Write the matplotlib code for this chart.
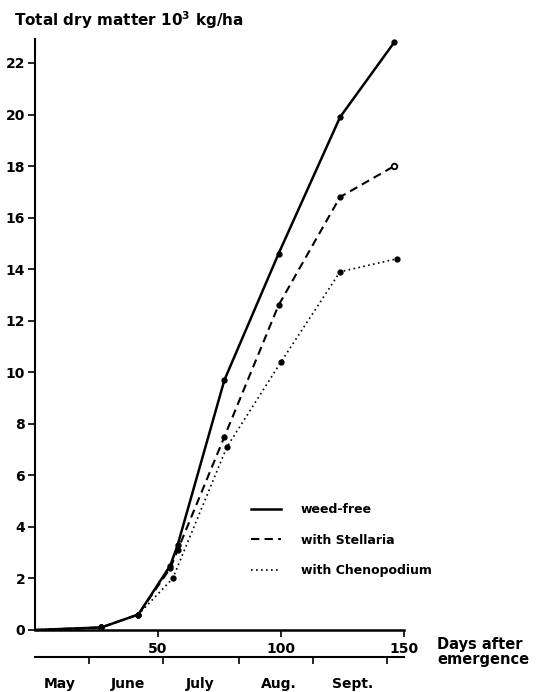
import matplotlib
matplotlib.use('Agg')
import matplotlib.pyplot as plt

# days after emergence and dry matter (10^3 kg/ha)
days_free = [0, 27, 42, 55, 58, 77, 99, 124, 146]
dm_free = [0, 0.1, 0.6, 2.5, 3.3, 9.7, 14.6, 19.9, 22.8]

days_stel = [0, 27, 42, 55, 58, 77, 99, 124, 146]
dm_stel = [0, 0.1, 0.6, 2.4, 3.1, 7.5, 12.6, 16.8, 18.0]

days_cheno = [0, 27, 42, 56, 78, 100, 124, 147]
dm_cheno = [0, 0.1, 0.6, 2.0, 7.1, 10.4, 13.9, 14.4]

y_ticks = [0, 2, 4, 6, 8, 10, 12, 14, 16, 18, 20, 22]
x_ticks = [50, 100, 150]
month_bounds = [22, 52, 83, 113, 143]
months = ['May', 'June', 'July', 'Aug.', 'Sept.']
month_pos = [10, 38, 67, 99, 129]

plt.rcParams['font.family'] = 'DejaVu Sans'
plt.rcParams['font.size'] = 10
plt.rcParams['font.weight'] = 'bold'

fig = plt.figure(figsize=(5.46, 6.92), dpi=100)
ax = fig.add_axes([0.064, 0.0896, 0.676, 0.854])

ax.plot(days_free, dm_free, '-', color='black', lw=1.8, marker='o', ms=3.5,
        markevery=slice(1, None), label='weed-free')
ax.plot(days_stel, dm_stel, color='black', lw=1.5, ls=(0, (4, 2.5)),
        marker='o', ms=3.5, markevery=slice(1, -1), label='with Stellaria')
# last Stellaria sample drawn as an open circle
ax.plot(days_stel[-1:], dm_stel[-1:], 'o', ms=4, mfc='white', mec='black', mew=1.3)
ax.plot(days_cheno, dm_cheno, color='black', lw=1.2, ls=(0, (1, 2)),
        marker='o', ms=3.5, markevery=slice(1, None), label='with Chenopodium')

ax.set_xlim(0, 150)
ax.set_ylim(0, 22.93)
ax.set_yticks(y_ticks)
ax.set_xticks(x_ticks)
ax.spines['top'].set_visible(False)
ax.spines['right'].set_visible(False)
ax.spines['left'].set_linewidth(1.5)
ax.spines['bottom'].set_linewidth(1.8)
ax.tick_params(axis='y', direction='out', length=5, width=1.2, pad=2)
ax.tick_params(axis='x', direction='out', length=5, width=1.2, pad=4)

# month axis below
sec = ax.secondary_xaxis(-0.046)
sec.set_xticks(month_bounds)
sec.set_xticklabels([])
sec.set_xticks(month_pos, minor=True)
sec.set_xticklabels(months, minor=True)
sec.tick_params(axis='x', which='major', direction='out', length=5, width=1.2)
sec.tick_params(axis='x', which='minor', length=0, pad=14)
sec.spines['bottom'].set_linewidth(1.5)

leg = ax.legend(frameon=False, loc='center left', bbox_to_anchor=(0.585, 0.152),
                handlelength=2.4, handletextpad=1.6, labelspacing=1.4,
                borderaxespad=0, borderpad=0, fontsize=9)
for line in leg.get_lines():
    line.set_marker('None')

fig.text(14 / 546, 1 - 20 / 692, r'Total dry matter $\mathbf{10^3}$ kg/ha',
         va='center', ha='left', fontsize=11)
fig.text(437 / 546, 1 - 652 / 692, 'Days after\nemergence',
         va='center', ha='left', fontsize=10.5, linespacing=0.95)

fig.savefig('out.png', dpi=100)
